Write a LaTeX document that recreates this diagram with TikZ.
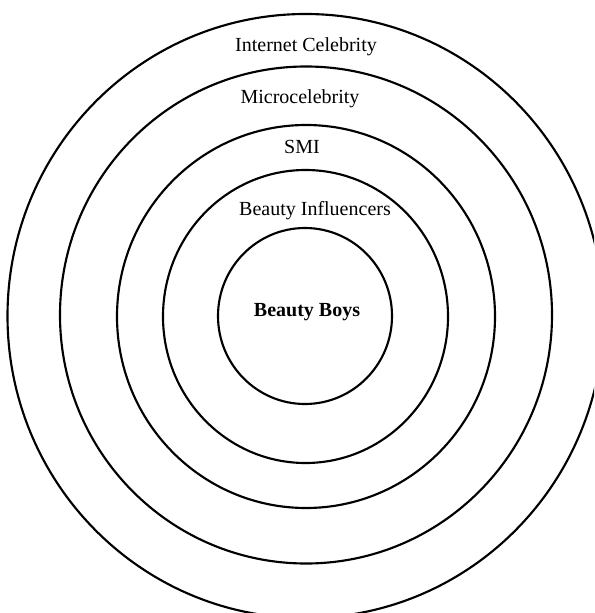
\documentclass[tikz,border=0pt]{standalone}
\usepackage{fontspec}
\setmainfont{Liberation Serif}
\usetikzlibrary{positioning}

\begin{document}
\begin{tikzpicture}[
        x=0.75pt, y=-0.75pt,
        font=\fontsize{15}{18}\selectfont,
        ring/.style={draw, line width=1.6pt},
        lbl/.style={anchor=base, inner sep=0pt},
    ]
    \useasboundingbox (0,0) rectangle (594,613);
    \clip (0,0) rectangle (594,613);

    % Rings, outermost first
    \draw[ring] (305.5,316) ellipse [x radius=298, y radius=302];
    \draw[ring] (306,315) ellipse [x radius=246, y radius=248.5];
    \draw[ring] (306,316.5) ellipse [x radius=189, y radius=191.5];
    \draw[ring] (305.5,316.5) ellipse [x radius=142.5, y radius=146.5];
    \draw[ring] (305,316) ellipse [x radius=87, y radius=88];

    % Labels
    \node[lbl] (celeb) at (306,52) {Internet Celebrity};
    \node[lbl] (micro) at (300,104) {Microcelebrity};
    \node[lbl] (smi) at (302,153) {SMI};
    \node[lbl] (infl) at (315,215) {Beauty Influencers};
    \node[lbl, font=\fontsize{15}{18}\selectfont\bfseries] (boys) at (307,316) {Beauty Boys};
\end{tikzpicture}
\end{document}
